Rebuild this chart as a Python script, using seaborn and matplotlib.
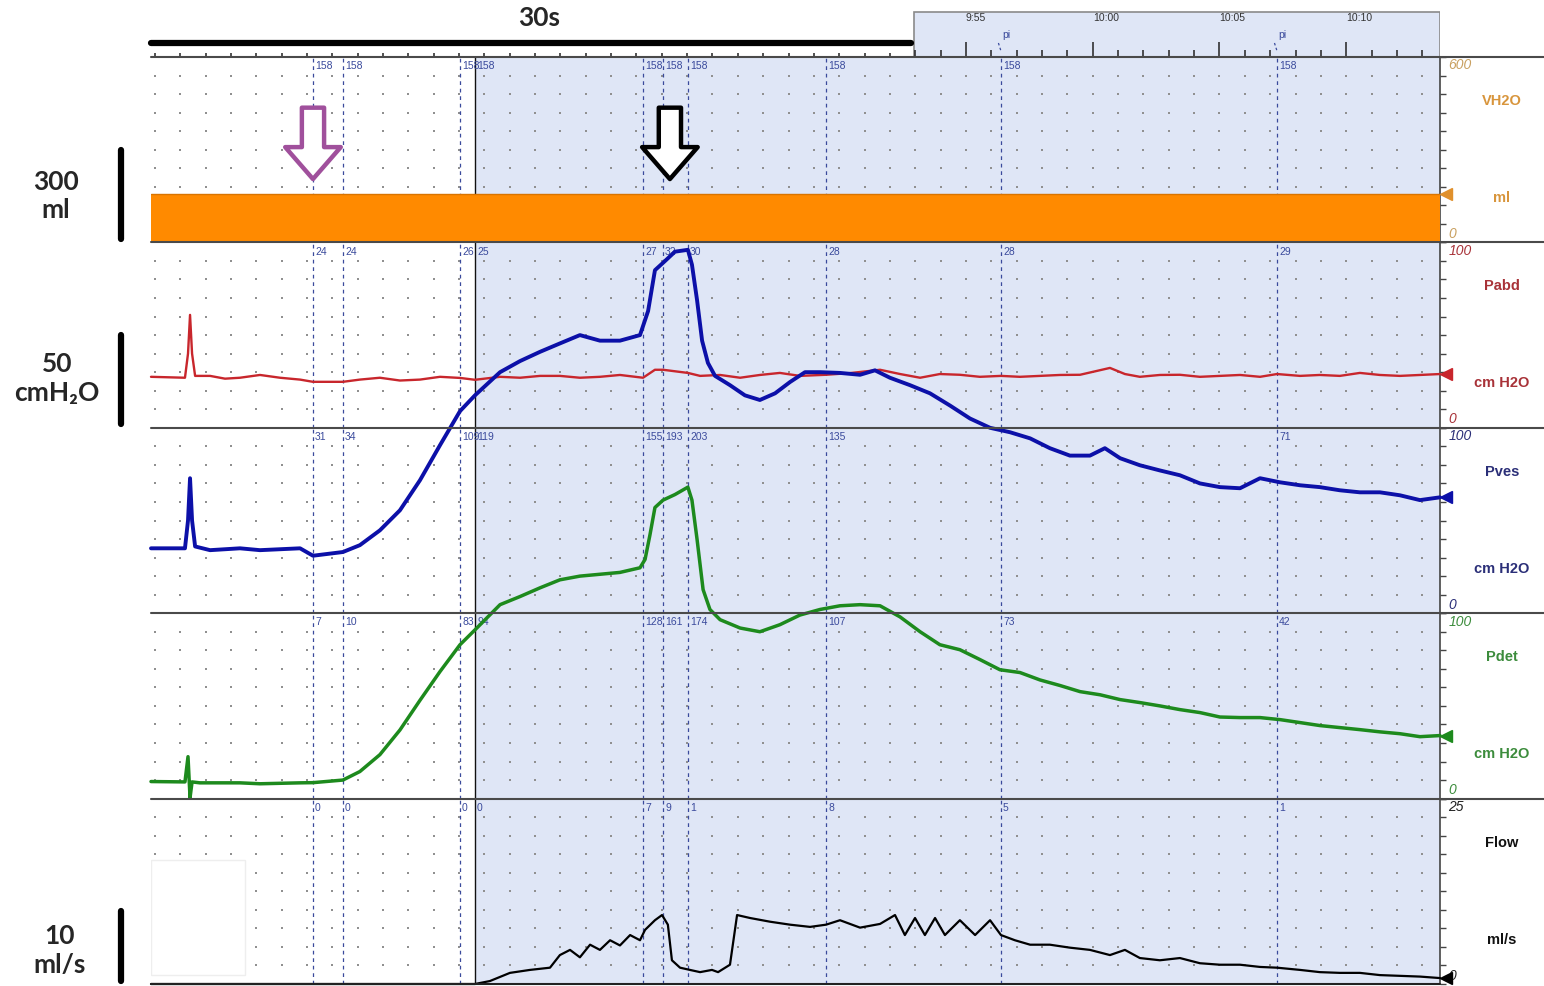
import numpy as np
import pandas as pd
import matplotlib
matplotlib.use("Agg")
import matplotlib.pyplot as plt
import matplotlib.transforms as mtransforms
from matplotlib.patches import Rectangle
from matplotlib.lines import Line2D
import seaborn as sns

# ------------------------------------------------------------------ data
# time axis in seconds (clock label = mm:ss)
x_start, x_end = 562.85, 613.70
shade_start = 575.63            # cursor: start of highlighted (voiding) region
strip_start = 592.95            # start of the time-strip box on top
clock_ticks = [595, 600, 605, 610]

event_times = [569.24, 570.42, 575.04, 575.63, 582.26, 583.05, 584.03, 589.48, 596.38, 607.27]
pi_times = [596.38, 607.27]
arrow_times = [569.24, 583.32]

vh2o_labels = ["158", "158", "158", "158", "158", "158", "158", "158", "158", "158"]
pabd_labels = ["24", "24", "26", "25", "27", "32", "30", "28", "28", "29"]
pves_labels = ["31", "34", "109", "119", "155", "193", "203", "135", "", "71"]
pdet_labels = ["7", "10", "83", "94", "128", "161", "174", "107", "73", "42"]
flow_labels = ["0", "0", "0", "0", "7", "9", "1", "8", "5", "1"]

vh2o_t = [562.85, 613.70]
vh2o_v = [158, 158]

pabd_t = [562.85, 564.19, 564.31, 564.39, 564.47, 564.59, 565.18, 565.77, 566.36, 567.15,
          567.94, 568.73, 569.24, 570.42, 571.09, 571.88, 572.67, 573.46, 574.25, 575.04,
          575.63, 576.62, 577.41, 578.20, 578.98, 579.77, 580.56, 581.35, 582.26, 582.73,
          583.05, 584.03, 584.51, 585.30, 586.09, 586.87, 587.66, 588.45, 589.48, 590.42,
          591.61, 592.40, 593.19, 593.97, 594.76, 595.55, 596.38, 597.13, 597.92, 598.71,
          599.50, 600.68, 601.27, 601.86, 602.65, 603.44, 604.23, 605.02, 605.81, 606.60,
          607.27, 608.18, 608.96, 609.75, 610.54, 611.33, 612.12, 612.91, 613.70]
pabd_v = [27.5, 27.0, 40.0, 60.9, 40.0, 28.0, 28.0, 26.5, 27.0, 28.5,
          27.0, 26.0, 24.8, 24.8, 26.0, 27.0, 25.5, 26.0, 27.5, 26.9,
          25.9, 27.5, 27.0, 28.0, 28.0, 27.0, 27.5, 28.5, 27.0, 31.3,
          31.3, 29.6, 28.0, 28.5, 27.0, 28.5, 29.6, 28.0, 28.6, 29.5,
          31.3, 29.0, 27.0, 29.0, 28.6, 27.5, 28.0, 27.5, 28.0, 28.5,
          28.6, 32.3, 29.0, 27.5, 28.5, 28.6, 27.5, 28.0, 28.5, 27.5,
          29.0, 28.0, 28.5, 28.0, 29.6, 28.5, 28.0, 28.5, 29.0]

pves_t = [562.85, 564.19, 564.31, 564.39, 564.47, 564.59, 565.18, 566.36, 567.15, 568.73,
          569.24, 570.42, 571.09, 571.88, 572.67, 573.46, 574.25, 575.04, 575.63, 576.62,
          577.41, 578.20, 578.98, 579.77, 580.56, 581.35, 582.14, 582.46, 582.73, 583.13,
          583.52, 584.03, 584.19, 584.39, 584.59, 584.82, 585.10, 585.69, 586.28, 586.87,
          587.47, 588.06, 588.65, 589.24, 590.03, 590.82, 591.41, 592.00, 592.79, 593.58,
          594.37, 595.16, 595.95, 596.74, 597.53, 598.31, 599.10, 599.89, 600.48, 601.08,
          601.86, 602.65, 603.44, 604.23, 605.02, 605.81, 606.60, 607.39, 608.18, 608.96,
          609.75, 610.54, 611.33, 612.12, 612.91, 613.70]
pves_v = [35.0, 35.0, 50.0, 72.8, 50.0, 36.0, 34.0, 35.0, 34.0, 35.0,
          31.0, 33.0, 36.7, 44.7, 55.5, 71.7, 90.6, 109.0, 117.5, 130.0,
          136.0, 141.0, 145.5, 150.0, 147.0, 147.0, 150.0, 163.0, 185.0, 190.0,
          195.0, 196.0, 188.0, 169.0, 147.0, 135.0, 128.0, 123.0, 117.5, 115.0,
          118.6, 124.7, 130.0, 130.0, 129.6, 128.6, 131.0, 127.0, 123.0, 118.6,
          112.0, 105.0, 100.0, 97.6, 94.3, 89.0, 85.0, 85.0, 89.0, 83.6,
          79.8, 77.0, 74.4, 70.0, 68.0, 67.4, 72.8, 70.6, 69.0, 68.0,
          66.3, 65.2, 65.2, 63.6, 61.0, 62.5]

pdet_t = [562.85, 564.19, 564.31, 564.39, 564.47, 564.78, 566.36, 567.15, 568.73, 569.24,
          570.42, 571.09, 571.88, 572.67, 573.46, 574.25, 575.04, 575.63, 576.62, 577.41,
          578.20, 578.98, 579.77, 580.56, 581.35, 582.14, 582.34, 582.53, 582.73, 583.05,
          583.52, 584.03, 584.19, 584.39, 584.63, 584.90, 585.30, 586.09, 586.87, 587.66,
          588.45, 589.24, 590.03, 590.82, 591.61, 592.40, 593.19, 593.97, 594.76, 595.55,
          596.34, 597.13, 597.92, 598.71, 599.50, 600.29, 601.08, 601.86, 602.65, 603.44,
          604.23, 605.02, 605.81, 606.60, 607.39, 608.18, 608.96, 609.75, 610.54, 611.33,
          612.12, 612.91, 613.70]
pdet_v = [9.2, 9.0, 22.6, 0.5, 9.0, 8.5, 8.5, 8.0, 8.5, 8.6,
          10.0, 14.6, 23.7, 37.0, 53.0, 68.5, 83.0, 91.0, 104.6, 109.0,
          113.7, 118.0, 120.0, 121.0, 122.0, 124.5, 129.0, 142.0, 157.0, 161.0,
          164.0, 168.0, 161.0, 140.0, 112.7, 102.0, 96.5, 92.0, 90.0, 93.8,
          99.0, 102.0, 104.0, 104.6, 104.0, 98.0, 90.0, 83.0, 80.3, 75.0,
          69.5, 68.0, 64.0, 61.0, 57.7, 56.0, 53.4, 51.8, 50.0, 48.0,
          46.4, 44.0, 43.7, 43.7, 42.6, 41.0, 39.4, 38.3, 37.2, 36.0,
          35.0, 33.4, 34.0]

flow_t = [562.85, 575.63, 576.22, 577.01, 577.80, 578.59, 578.98, 579.38, 579.77, 580.17,
          580.56, 580.96, 581.35, 581.75, 582.14, 582.34, 582.73, 583.01, 583.24, 583.40,
          583.72, 584.11, 584.51, 584.98, 585.22, 585.69, 585.97, 586.48, 587.27, 588.06,
          588.85, 589.48, 590.03, 590.82, 591.61, 592.20, 592.59, 592.99, 593.38, 593.78,
          594.17, 594.76, 595.36, 595.95, 596.38, 596.93, 597.53, 598.31, 599.10, 599.89,
          600.68, 601.27, 601.86, 602.65, 603.44, 604.23, 605.02, 605.81, 606.60, 607.27,
          608.18, 608.96, 609.75, 610.54, 611.33, 612.12, 612.91, 613.70]
flow_v = [0.0, 0.0, 0.4, 1.5, 1.9, 2.2, 3.9, 4.6, 3.6, 5.3,
          4.6, 5.9, 5.2, 6.6, 5.9, 7.3, 8.6, 9.3, 8.0, 3.2,
          2.2, 1.9, 1.6, 1.9, 1.6, 2.6, 9.3, 8.9, 8.4, 8.0,
          7.7, 8.0, 8.6, 7.6, 8.1, 9.3, 6.6, 8.9, 6.6, 8.9,
          6.6, 8.6, 6.6, 8.6, 6.6, 5.9, 5.3, 5.3, 4.9, 4.6,
          3.9, 4.6, 3.5, 3.2, 3.5, 2.8, 2.6, 2.6, 2.3, 2.2,
          1.9, 1.6, 1.5, 1.5, 1.2, 1.1, 1.0, 0.8]

# ------------------------------------------------------------------ style
sns.set_theme(style="white")
plt.rcParams["font.family"] = ["Liberation Sans", "DejaVu Sans"]

W, H = 1544, 986
fig = plt.figure(figsize=(W / 100, H / 100), dpi=100)
fig.patch.set_facecolor("white")

L, R = 151 / W, 1440 / W
TOP = 57.0
PH = (984 - TOP) / 5


def fy(px):
    return 1 - px / H


SHADE = "#dfe6f6"
EVENT_COL = "#3a4a9c"
BIG = ["Lato", "DejaVu Sans"]

panels = [
    dict(name="VH2O", unit="ml", ymax=600, color="#ff8a00", text="#d8953c", tick="#c9a060",
         t=vh2o_t, v=vh2o_v, labels=vh2o_labels, lw=1.0),
    dict(name="Pabd", unit="cm H2O", ymax=100, color="#c8262c", text="#a83238", tick="#a83238",
         t=pabd_t, v=pabd_v, labels=pabd_labels, lw=1.7),
    dict(name="Pves", unit="cm H2O", ymax=100, color="#0c10a8", text="#2b2f78", tick="#2b2f78",
         t=pves_t, v=pves_v, labels=pves_labels, lw=2.8),
    dict(name="Pdet", unit="cm H2O", ymax=100, color="#1d8a1d", text="#3c8c3c", tick="#3c8c3c",
         t=pdet_t, v=pdet_v, labels=pdet_labels, lw=2.5),
    dict(name="Flow", unit="ml/s", ymax=25, color="#000000", text="#111111", tick="#222222",
         t=flow_t, v=flow_v, labels=flow_labels, lw=1.6),
]

axes = []
for i, p in enumerate(panels):
    y_bottom_px = TOP + PH * (i + 1)
    ax = fig.add_axes([L, fy(y_bottom_px), R - L, PH / H])
    ax.patch.set_alpha(0)
    ax.set_xlim(x_start, x_end)
    ax.set_ylim(0, p["ymax"])
    ymax = p["ymax"]

    # highlighted region
    ax.axvspan(shade_start, x_end, color=SHADE, zorder=0, lw=0)

    # dotted grid (one dot per second x per tenth of scale)
    gx = np.arange(np.ceil(x_start), x_end, 1.0)
    gy = np.linspace(0, ymax, 11)[1:-1]
    GX, GY = np.meshgrid(gx, gy)
    ax.scatter(GX.ravel(), GY.ravel(), s=2.0, marker="s", c="#909090", linewidths=0, zorder=1)

    # event markers
    for t, lab in zip(event_times, p["labels"]):
        if abs(t - shade_start) < 1e-6:
            ax.axvline(t, color="#111111", lw=1.0, zorder=2)
        else:
            ax.axvline(t, color=EVENT_COL, lw=0.9, ls=(0, (3, 3)), zorder=2)
        ax.annotate(lab, xy=(t, 1), xycoords=("data", "axes fraction"), xytext=(1.5, -3),
                    textcoords="offset points", ha="left", va="top", fontsize=7.5,
                    color=EVENT_COL, zorder=3)

    df = pd.DataFrame({"t": p["t"], "v": p["v"]})
    if i == 0:
        ax.fill_between(df["t"], 0, df["v"], color=p["color"], zorder=4, lw=0)
        sns.lineplot(data=df, x="t", y="v", ax=ax, color="#d97400", lw=p["lw"], legend=False, zorder=4)
    else:
        sns.lineplot(data=df, x="t", y="v", ax=ax, color=p["color"], lw=p["lw"],
                     legend=False, zorder=5, clip_on=False)

    # current-value pointer at right edge
    ax.plot([x_end + 0.22], [p["v"][-1]], marker="<", ms=8, color=p["color"] if i else "#e0902c",
            clip_on=False, zorder=10, lw=0)

    # right axis
    ax.set_xlabel("")
    ax.set_ylabel("")
    ax.set_xticks([])
    ax.yaxis.tick_right()
    ax.set_yticks(np.linspace(0, ymax, 11))
    ax.set_yticklabels([])
    ax.tick_params(axis="y", which="both", direction="out", length=4, width=1.0,
                   colors="#444444", right=True, left=False)
    for s in ["left", "top", "bottom"]:
        ax.spines[s].set_visible(False)
    ax.spines["right"].set_color("#444444")
    ax.spines["right"].set_linewidth(1.2)
    ax.spines["right"].set_visible(True)

    ax.annotate(f"{ymax:g}", xy=(1, 1), xycoords="axes fraction", xytext=(6, -1),
                textcoords="offset points", ha="left", va="top", fontsize=10,
                style="italic", color=p["tick"])
    ax.annotate("0", xy=(1, 0), xycoords="axes fraction", xytext=(6, 1),
                textcoords="offset points", ha="left", va="bottom", fontsize=10,
                style="italic", color=p["tick"])

    # channel name / unit at right
    top_px = TOP + PH * i
    fig.text(1502 / W, fy(top_px + 44), p["name"], ha="center", va="center",
             fontsize=10.5, fontweight="bold", color=p["text"])
    fig.text(1502 / W, fy(top_px + 141), p["unit"], ha="center", va="center",
             fontsize=10.5, fontweight="bold", color=p["text"])
    axes.append(ax)

ax_v, ax_pabd, ax_pves, ax_pdet, ax_flow = axes

# hollow arrows in the volume panel
for t, col in zip(arrow_times, ["#a0509c", "#000000"]):
    ax_v.annotate("", xy=(t, 205), xytext=(t, 436), xycoords="data",
                  arrowprops=dict(arrowstyle="simple,head_length=1.15,head_width=2.0,tail_width=0.8",
                                  fc="white", ec=col, lw=3.2, shrinkA=0, shrinkB=0,
                                  mutation_scale=20), zorder=9)

# white box bottom-left of flow panel
ax_flow.add_patch(Rectangle((0, 0.05), 0.073, 0.62, transform=ax_flow.transAxes,
                            facecolor="white", edgecolor="#eeeeee", lw=1, zorder=3))

# scale bars on the left
bar_kw = dict(color="black", lw=4.5, solid_capstyle="round", clip_on=False, zorder=10)
for ax, lo, hi in [(ax_v, 12, 298), (ax_pabd, 1.8, 50.2), (ax_flow, 0.4, 9.8)]:
    tr = mtransforms.blended_transform_factory(ax.transAxes, ax.transData)
    ax.plot([-0.0233, -0.0233], [lo, hi], transform=tr, **bar_kw)

fig.text(56 / W, fy(196), "300\nml", ha="center", va="center", fontsize=19,
         fontweight="bold", family=BIG, linespacing=1.25)
fig.text(57 / W, fy(378), "50\ncmH\u2082O", ha="center", va="center", fontsize=19,
         fontweight="bold", family=BIG, linespacing=1.25)
fig.text(60 / W, fy(950), "10\nml/s", ha="center", va="center", fontsize=19,
         fontweight="bold", family=BIG, linespacing=1.25)

# ------------------------------------------------------------------ time strip on top
ax_top = fig.add_axes([L, fy(TOP), R - L, TOP / H])
ax_top.set_xlim(x_start, x_end)
ax_top.set_ylim(0, TOP)
ax_top.axis("off")
ax_top.add_patch(Rectangle((strip_start, 0), x_end - strip_start, 45, facecolor=SHADE,
                           edgecolor="#8a8a8a", lw=1.2, zorder=0))
secs = np.arange(np.ceil(x_start), x_end, 1.0)
for s in secs:
    if s >= strip_start:
        h = 15 if int(s) % 5 == 0 else 7
    else:
        h = 4
    ax_top.vlines(s, 0, h, color="#222222", lw=1.1)
for s in clock_ticks:
    ax_top.text(s, 39, f"{s // 60}:{s % 60:02d}", ha="left", va="center", fontsize=7.5,
                color="#333333")
for t in pi_times:
    ax_top.text(t + 0.05, 22, "pi", ha="left", va="center", fontsize=7.5, color=EVENT_COL)
    ax_top.plot([t - 0.1, t], [14, 6], color=EVENT_COL, lw=0.9, ls=(0, (2, 2)))
ax_top.plot([x_start, x_start + 30], [14, 14], color="black", lw=4.5, solid_capstyle="round",
            clip_on=False)
ax_top.text(x_start + 15.3, 39, "30s", ha="center", va="center", fontsize=19,
            fontweight="bold", family=BIG)

# panel separator lines
for k in range(5):
    yb = fy(TOP + PH * k)
    fig.add_artist(Line2D([L, 1.0], [yb, yb], color="#4a4a4a", lw=1.5))
fig.add_artist(Line2D([L, R], [fy(984), fy(984)], color="#222222", lw=1.5))

fig.savefig("out.png", dpi=100, facecolor="white")
